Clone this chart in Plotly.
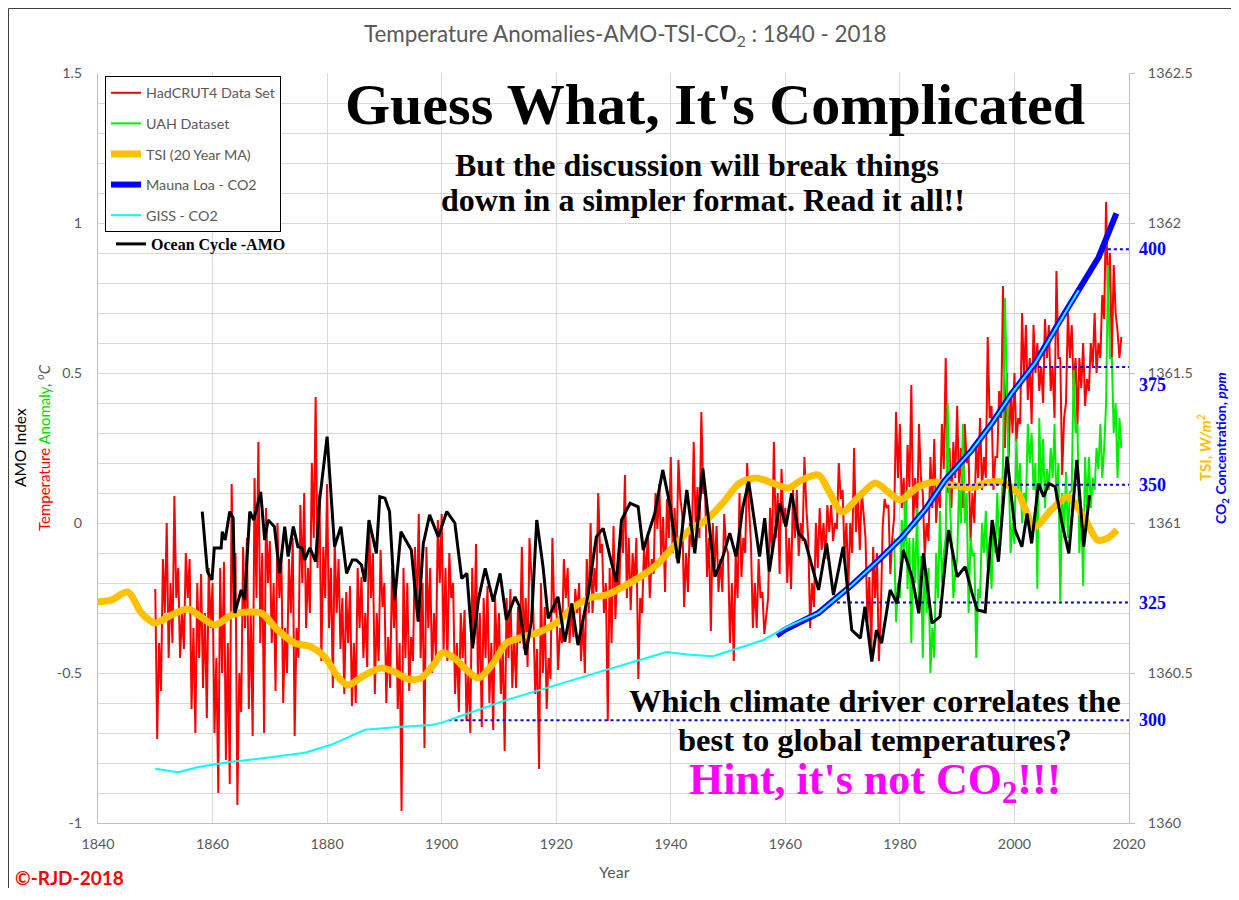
import numpy as np
import plotly.graph_objects as go

# ---------------- data ----------------
# HadCRUT4 anomaly, 3 readings per year starting 1850
hadcrut = [
    -0.22,-0.72,-0.40, -0.56,-0.12,-0.30, 0.00,-0.45,-0.20, -0.40,0.09,-0.25, -0.15,-0.45,-0.30,
    -0.42,-0.10,-0.25, -0.12,-0.62,-0.35, -0.70,-0.20,-0.45, -0.17,-0.55,-0.30, -0.65,-0.15,-0.35,
    -0.20,-0.70,-0.45, -0.90,-0.15,-0.50, -0.13,-0.79,-0.40, -0.87,0.13,-0.30, -0.10,-0.94,-0.50,
    -0.63,-0.08,-0.35, -0.05,-0.62,-0.30, -0.71,0.15,-0.25, 0.27,-0.40,-0.10, -0.70,0.05,-0.20,
    -0.06,-0.40,-0.20, -0.56,0.00,-0.25, -0.10,-0.60,-0.35, -0.50,-0.12,-0.30, -0.05,-0.71,-0.35,
    -0.45,0.06,-0.20, 0.10,-0.35,-0.15, -0.30,0.20,-0.05, 0.42,-0.15,0.10, -0.46,-0.08,-0.25,
    0.13,-0.35,-0.15, -0.55,-0.05,-0.30, -0.12,-0.42,-0.25, -0.57,-0.23,-0.40, -0.21,-0.61,-0.40,
    -0.60,-0.15,-0.35, -0.18,-0.45,-0.30, -0.48,0.01,-0.25, -0.10,-0.57,-0.30, -0.46,-0.09,-0.28,
    -0.20,-0.60,-0.38, -0.55,-0.15,-0.35, -0.20,-0.62,-0.40, -0.96,-0.15,-0.45, -0.20,-0.56,-0.38,
    -0.46,-0.08,-0.30, 0.03,-0.45,-0.20, -0.75,-0.08,-0.35, -0.15,-0.50,-0.30, -0.45,0.01,-0.20,
    0.03,-0.43,-0.15, -0.46,-0.10,-0.25, -0.20,-0.57,-0.40, -0.63,-0.30,-0.45, -0.29,-0.66,-0.50,
    -0.70,-0.15,-0.40, -0.07,-0.52,-0.30, -0.68,-0.25,-0.45, -0.21,-0.60,-0.40, -0.69,-0.25,-0.45,
    -0.30,-0.57,-0.42, -0.76,-0.25,-0.45, -0.22,-0.55,-0.38, -0.55,-0.28,-0.40, -0.08,-0.42,-0.25,
    -0.48,-0.05,-0.20, -0.30,-0.57,-0.42, -0.82,-0.20,-0.50, -0.28,-0.62,-0.45, -0.52,-0.05,-0.30,
    -0.25,-0.49,-0.35, -0.40,-0.12,-0.25, -0.15,-0.40,-0.28, -0.38,-0.22,-0.30, -0.20,-0.46,-0.32,
    -0.50,-0.12,-0.30, 0.00,-0.30,-0.15, -0.23,0.10,-0.10, -0.07,-0.30,-0.20, -0.66,-0.15,-0.40,
    -0.01,-0.32,-0.15, -0.23,0.00,-0.10, 0.16,-0.25,-0.05, -0.29,-0.10,-0.20, -0.05,-0.52,-0.25,
    -0.30,-0.08,-0.18, -0.03,-0.25,-0.12, -0.17,0.10,-0.02, 0.13,-0.12,0.02, -0.23,0.08,-0.05,
    0.22,-0.10,0.05, -0.12,0.21,0.08, 0.03,-0.28,-0.10, -0.23,0.00,-0.08, 0.27,-0.01,0.12,
    -0.05,0.37,0.10, 0.10,-0.18,-0.05, -0.36,0.00,-0.15, -0.01,-0.23,-0.12, -0.23,0.03,-0.08,
    -0.10,-0.40,-0.20, -0.46,-0.10,-0.25, 0.10,-0.18,-0.05, -0.10,0.20,0.05, -0.07,-0.35,-0.20,
    -0.35,-0.12,-0.25, -0.23,-0.37,-0.30, -0.25,0.05,-0.10, 0.27,-0.05,0.10, -0.17,0.18,0.00,
    0.05,-0.20,-0.05, -0.22,0.11,-0.05, 0.11,-0.11,0.00, -0.06,0.22,0.05, -0.05,-0.35,-0.20,
    -0.28,0.00,-0.15, 0.05,-0.09,0.00, -0.12,0.06,-0.03, 0.06,-0.06,0.00, -0.02,0.20,0.08,
    0.11,-0.11,0.00, -0.22,0.00,-0.10, 0.25,-0.03,0.10, -0.09,0.11,0.02, -0.05,-0.33,-0.18,
    -0.43,-0.08,-0.25, -0.10,-0.46,-0.30, -0.01,0.08,0.05, 0.06,-0.17,-0.05, 0.02,0.37,0.15,
    0.33,0.05,0.15, -0.06,0.26,0.12, 0.46,0.00,0.15, 0.00,0.33,0.15, 0.10,-0.11,0.00,
    -0.06,0.22,0.05, 0.28,0.00,0.12, 0.05,0.33,0.18, 0.55,0.10,0.25, 0.05,0.27,0.15,
    0.39,0.11,0.25, 0.05,0.33,0.20, 0.22,-0.06,0.10, 0.00,0.27,0.15, 0.35,0.11,0.22,
    0.15,0.62,0.35, 0.39,0.11,0.22, 0.22,0.44,0.35, 0.79,0.25,0.50, 0.22,0.44,0.30,
    0.50,0.27,0.35, 0.33,0.70,0.48, 0.66,0.41,0.55, 0.33,0.66,0.50, 0.60,0.44,0.52,
    0.40,0.68,0.55, 0.66,0.44,0.52, 0.35,0.84,0.55, 0.55,0.16,0.35, 0.40,0.70,0.55,
    0.66,0.44,0.55, 0.33,0.55,0.45, 0.60,0.39,0.48, 0.44,0.60,0.52, 0.70,0.50,0.60,
    0.55,0.76,0.68, 1.07,0.75,0.90, 0.55,0.86,0.70, 0.64,0.55,0.62,
]
hadcrut_start = 1850

# UAH satellite anomaly, 3 readings per year starting 1979
uah = [
    -0.05,-0.33,-0.20, -0.25,0.01,-0.10, 0.11,-0.22,-0.05, -0.40,-0.05,-0.20, 0.05,-0.30,-0.11,
    -0.45,-0.10,-0.30, -0.15,-0.50,-0.35, -0.45,-0.10,-0.25, 0.04,-0.20,-0.10, -0.05,0.40,0.10,
    -0.05,-0.25,-0.17, -0.12,0.13,0.00, 0.33,0.00,0.10, -0.30,-0.05,-0.11, -0.10,-0.45,-0.22,
    -0.25,0.00,-0.10, 0.04,-0.15,-0.05, -0.22,0.00,-0.10, 0.10,-0.10,0.00, 0.20,0.75,0.45,
    0.11,-0.10,0.00, -0.07,0.28,0.10, 0.20,0.00,0.10, 0.05,0.33,0.20, 0.30,0.11,0.20,
    -0.22,0.35,0.10, 0.28,0.05,0.18, 0.11,0.25,0.15, 0.33,0.05,0.20, -0.26,0.10,-0.05,
    0.17,-0.05,0.10, 0.11,0.51,0.30, 0.33,-0.10,0.05, -0.21,0.22,0.05, 0.22,0.05,0.15,
    0.11,0.25,0.18, 0.33,0.15,0.25, 0.40,0.86,0.55, 0.55,0.30,0.40, 0.15,0.35,0.25,
]
uah_start = 1979

# TSI 20-year moving average (W/m2)
tsi_years = [1840, 1842.3, 1845.2, 1847.6, 1849.9, 1852.8, 1855.7, 1858.0, 1860.4, 1863.3,
             1866.2, 1868.5, 1871.4, 1874.3, 1877.2, 1879.6, 1881.9, 1883.6, 1886.6, 1889.5,
             1891.8, 1894.1, 1896.4, 1898.8, 1900.1, 1902.0, 1904.4, 1906.4, 1909.0, 1911.3,
             1914.2, 1917.1, 1920.0, 1922.9, 1925.8, 1928.7, 1931.6, 1934.6, 1937.5, 1940.4,
             1943.3, 1946.2, 1949.1, 1952.0, 1954.9, 1957.8, 1960.5, 1962.8, 1965.8, 1967.5,
             1969.9, 1972.8, 1975.7, 1978.0, 1980.0, 1983.2, 1986.1, 1989.0, 1992.5, 1994.8,
             1997.7, 2000.6, 2003.5, 2006.4, 2009.3, 2012.2, 2014.5, 2016.3, 2017.9]
tsi_vals = [1360.737, 1360.743, 1360.770, 1360.700, 1360.667, 1360.693, 1360.713, 1360.687, 1360.660, 1360.693,
            1360.703, 1360.700, 1360.643, 1360.600, 1360.587, 1360.553, 1360.487, 1360.460, 1360.493, 1360.517,
            1360.503, 1360.480, 1360.483, 1360.533, 1360.567, 1360.553, 1360.510, 1360.483, 1360.533, 1360.600,
            1360.620, 1360.637, 1360.667, 1360.717, 1360.750, 1360.760, 1360.787, 1360.820, 1360.860, 1360.920,
            1360.977, 1361.010, 1361.067, 1361.133, 1361.150, 1361.133, 1361.117, 1361.143, 1361.160, 1361.110,
            1361.037, 1361.087, 1361.133, 1361.103, 1361.077, 1361.120, 1361.137, 1361.127, 1361.117, 1361.133,
            1361.137, 1361.100, 1360.987, 1361.043, 1361.087, 1361.017, 1360.943, 1360.950, 1360.977]

# Mauna Loa CO2 (ppm)
ml_years = [1958.5, 1959.9, 1965.8, 1971.6, 1976.3, 1980.4, 1984.4, 1987.9, 1992.6, 1996.1,
            1999.6, 2003.6, 2007.7, 2011.2, 2014.7, 2017.8]
ml_ppm = [318.0, 319.2, 322.8, 328.7, 334.0, 338.9, 344.7, 351.0, 357.4, 363.1,
          369.5, 375.8, 384.3, 391.3, 398.3, 407.6]

# GISS CO2 (ppm)
giss_years = [1850, 1854, 1857.5, 1863.3, 1869.1, 1876.1, 1880.7, 1886.6, 1892.4, 1898.2,
              1900, 1905.5, 1911.3, 1917.1, 1922.9, 1928.7, 1934.6, 1939.2, 1943.3, 1947.4,
              1952, 1956.1, 1960.2, 1965.8, 1971.6, 1976.3, 1980.4, 1984.4, 1987.9, 1992.6,
              1996.1, 1999.6, 2003.6, 2007.7, 2011.2]
giss_ppm = [289.7, 289.0, 290.1, 291.2, 292.0, 293.1, 294.8, 298.0, 298.6, 299.0,
            299.5, 301.8, 304.3, 306.4, 308.6, 310.7, 312.8, 314.5, 313.9, 313.6,
            315.4, 317.0, 319.8, 322.8, 328.7, 334.0, 338.9, 344.7, 351.0, 357.4,
            363.1, 369.5, 375.8, 384.3, 391.3]

# AMO index
amo_years = [1858.2, 1858.5, 1859.1, 1859.9, 1860.3, 1861.5, 1861.7, 1862.2, 1863.0, 1863.6,
             1863.9, 1865.0, 1865.6, 1866.5, 1867.2, 1868.4, 1869.1, 1869.7, 1870.8, 1871.7,
             1872.6, 1873.2, 1874.1, 1874.9, 1875.6, 1876.1, 1877.0, 1878.0, 1878.7, 1880.0,
             1881.3, 1882.4, 1883.4, 1884.4, 1885.1, 1886.0, 1886.6, 1887.3, 1888.6, 1889.2,
             1890.1, 1890.9, 1891.8, 1892.9, 1894.7, 1895.9, 1896.8, 1897.9, 1899.4, 1900.9,
             1902.3, 1903.5, 1904.4, 1905.4, 1906.4, 1907.6, 1909.0, 1910.2, 1911.3, 1912.8,
             1913.6, 1914.7, 1915.7, 1916.6, 1917.7, 1918.6, 1919.5, 1920.3, 1921.5, 1922.7,
             1923.8, 1925.6, 1927.0, 1928.2, 1929.4, 1930.5, 1931.4, 1932.9, 1934.3, 1935.2,
             1936.1, 1937.2, 1938.6, 1939.8, 1941.3, 1942.8, 1944.2, 1945.6, 1947.7, 1949.1,
             1950.3, 1951.4, 1952.6, 1953.6, 1955.5, 1956.4, 1957.2, 1959.0, 1960.1, 1961.1,
             1962.3, 1963.4, 1965.8, 1967.2, 1968.4, 1970.1, 1971.6, 1973.1, 1973.9, 1975.1,
             1975.9, 1976.8, 1978.3, 1979.5, 1980.6, 1982.1, 1983.3, 1984.1, 1985.6, 1987.0,
             1988.5, 1990.0, 1991.4, 1992.6, 1993.5, 1994.9, 1996.1, 1997.2, 1998.7, 2000.1,
             2001.3, 2002.2, 2003.0, 2004.2, 2005.1, 2006.0, 2007.1, 2008.3, 2009.5, 2010.9,
             2012.1, 2013.1]
amo_vals = [0.038, -0.023, -0.162, -0.19, -0.083, -0.083, -0.029, -0.057, 0.038, 0.017,
            -0.30, -0.223, -0.257, 0.038, 0.01, 0.104, -0.057, 0.01, -0.012, -0.167,
            -0.012, -0.112, -0.012, -0.079, -0.083, -0.123, -0.083, -0.129, 0.077, 0.288,
            -0.079, -0.012, -0.168, -0.123, -0.123, -0.14, -0.196, 0.01, -0.101, 0.088,
            0.083, 0.038, -0.257, -0.029, -0.09, -0.329, -0.068, 0.027, -0.046, 0.038,
            0.0, -0.185, -0.168, -0.418, -0.257, -0.151, -0.262, -0.168, -0.323, -0.246,
            -0.279, -0.44, -0.323, 0.01, -0.146, -0.318, -0.279, -0.246, -0.396, -0.268,
            -0.407, -0.234, -0.046, -0.018, -0.112, -0.196, 0.01, 0.066, 0.054, -0.09,
            -0.034, 0.032, 0.177, 0.066, -0.134, 0.11, -0.101, 0.182, -0.179, -0.112,
            -0.034, -0.112, 0.054, 0.138, -0.112, 0.016, -0.162, 0.066, -0.012, 0.099,
            -0.034, -0.057, -0.223, -0.068, -0.24, -0.079, -0.357, -0.384, -0.279, -0.462,
            -0.357, -0.401, -0.223, -0.268, -0.09, -0.179, -0.301, -0.101, -0.334, -0.312,
            -0.023, -0.179, -0.146, -0.234, -0.29, -0.296, 0.01, -0.129, 0.221, -0.023,
            -0.079, 0.032, -0.068, 0.132, 0.088, 0.132, 0.121, -0.001, -0.101, 0.21,
            -0.079, 0.093]

# CO2 reference levels marked with dotted lines
co2_levels = [300, 325, 350, 375, 400]

# Tick labels
temp_ticks = [-1, -0.5, 0, 0.5, 1, 1.5]
temp_ticktext = ["-1", "-0.5", "0", "0.5", "1", "1.5"]
tsi_ticks = [1360, 1360.5, 1361, 1361.5, 1362, 1362.5]
tsi_ticktext = ["1360", "1360.5", "1361", "1361.5", "1362", "1362.5"]

# ---------------- layout helpers ----------------
# The page body has an 8 px margin on every side; keep the figure inside it (no scrollbars)
OFF = 8
W, H = 1239 - 2 * OFF, 880
PLOT_L, PLOT_R, PLOT_T, PLOT_B = 98, 1129, 73, 823      # page pixels of the plot area
ML = PLOT_L - OFF
MT = PLOT_T - OFF
MR = W - (PLOT_R - OFF)
MB = H - (PLOT_B - OFF)
PW, PH = PLOT_R - PLOT_L, PLOT_B - PLOT_T


def px(x):
    return (x - PLOT_L) / PW


def py(y):
    return (PLOT_B - y) / PH


GREY = "#595959"
SANS = "Lato"
SERIF = "Liberation Serif"

had_x = hadcrut_start + np.arange(len(hadcrut)) / 3.0
uah_x = uah_start + np.arange(len(uah)) / 3.0

fig = go.Figure()

fig.add_trace(go.Scatter(x=had_x, y=hadcrut, mode="lines", name="HadCRUT4 Data Set",
                         line=dict(color="#FF0000", width=2), legendgroup="a", legendrank=1))
fig.add_trace(go.Scatter(x=uah_x, y=uah, mode="lines", name="UAH Dataset",
                         line=dict(color="#00EE00", width=2), legendgroup="b", legendrank=2))
fig.add_trace(go.Scatter(x=tsi_years, y=tsi_vals, mode="lines", name="TSI (20 Year MA)", yaxis="y2",
                         line=dict(color="#FFC000", width=7, shape="spline", smoothing=0.8),
                         legendgroup="c", legendrank=3))

# dotted CO2 reference lines start where the CO2 record first reaches each level
merged_years = [y for y in giss_years if y < ml_years[0]] + ml_years
merged_ppm = [p for y, p in zip(giss_years, giss_ppm) if y < ml_years[0]] + ml_ppm


def crossing(years, vals, level):
    for i in range(1, len(vals)):
        if vals[i] >= level > vals[i - 1]:
            f = (level - vals[i - 1]) / (vals[i] - vals[i - 1])
            return years[i - 1] + f * (years[i] - years[i - 1])
    return years[0]


for lev in co2_levels:
    x0 = crossing(merged_years, merged_ppm, lev)
    fig.add_trace(go.Scatter(x=[x0, 2020.6], y=[lev, lev], mode="lines", yaxis="y3",
                             line=dict(color="#0000FF", width=2, dash="dot"),
                             showlegend=False, hoverinfo="skip", cliponaxis=False))

fig.add_trace(go.Scatter(x=ml_years, y=ml_ppm, mode="lines", name="Mauna Loa - CO2", yaxis="y3",
                         line=dict(color="#0000FF", width=6), legendgroup="d", legendrank=4))
fig.add_trace(go.Scatter(x=giss_years, y=giss_ppm, mode="lines", name="GISS - CO2", yaxis="y3",
                         line=dict(color="#00FFFF", width=2), legendgroup="e", legendrank=5))
fig.add_trace(go.Scatter(x=amo_years, y=amo_vals, mode="lines", name="<b>Ocean Cycle -AMO</b>",
                         yaxis="y4", line=dict(color="#000000", width=3), legend="legend2"))

annotations = []
# CO2 level labels, just right of the right-hand axis
for lev in co2_levels:
    annotations.append(dict(x=px(1137), y=lev, xref="paper", yref="y3", text="<b>%d</b>" % lev,
                            showarrow=False, xanchor="left", yanchor="middle",
                            yshift=-18 if lev == 375 else 0,
                            font=dict(family=SERIF, size=18, color="#0000FF")))

annotations += [
    dict(x=px(625), y=py(35), text="Temperature Anomalies-AMO-TSI-CO<sub>2</sub> : 1840 - 2018",
         font=dict(family=SANS, size=22.4, color=GREY)),
    dict(x=px(715), y=py(104), text="<b>Guess What, It's Complicated</b>",
         font=dict(family=SERIF, size=58, color="#000000")),
    dict(x=px(697), y=py(165), text="<b>But the discussion will break things</b>",
         font=dict(family=SERIF, size=32, color="#000000")),
    dict(x=px(703), y=py(200), text="<b>down in a simpler format. Read it all!!</b>",
         font=dict(family=SERIF, size=32, color="#000000")),
    dict(x=px(875), y=py(701), text="<b>Which climate driver correlates the</b>",
         font=dict(family=SERIF, size=32.5, color="#000000")),
    dict(x=px(875), y=py(740), text="<b>best to global temperatures?</b>",
         font=dict(family=SERIF, size=32.5, color="#000000")),
    dict(x=px(875), y=py(782), text="<b>Hint, it's not CO<sub>2</sub>!!!</b>",
         font=dict(family=SERIF, size=44, color="#FF00FF")),
    dict(x=px(20), y=py(448), text="AMO Index", textangle=-90,
         font=dict(family=SANS, size=15.5, color="#000000")),
    dict(x=px(43), y=py(448), textangle=-90,
         text='<span style="color:#FF0000">Temperature</span> <span style="color:#00DD00">Anomaly</span>'
              '<span style="color:#595959">, <i><sup>o</sup>C</i></span>',
         font=dict(family=SANS, size=15, color=GREY)),
    dict(x=px(1204), y=py(448), textangle=-90, text="<b>TSI, <i>W/m<sup>2</sup></i></b>",
         font=dict(family=SANS, size=15, color="#FFC000")),
    dict(x=px(1221), y=py(448), textangle=-90,
         text="<b>CO<sub>2</sub> Concentration, <i>ppm</i></b>",
         font=dict(family=SANS, size=14, color="#0000FF")),
    dict(x=px(614), y=py(871), text="Year", font=dict(family=SANS, size=16, color=GREY)),
    dict(x=px(13), y=py(877), text="<b>©-RJD-2018</b>", xanchor="left",
         font=dict(family=SANS, size=19, color="#FF0000")),
]
for a in annotations:
    a.setdefault("xref", "paper")
    a.setdefault("yref", "paper")
    a.setdefault("showarrow", False)
    a.setdefault("xanchor", "center")
    a.setdefault("yanchor", "middle")

# outer frame: only the left and top edges are visible in the reference
shapes = [
    dict(type="line", xref="paper", yref="paper", x0=px(8.5), x1=px(8.5), y0=py(8.5), y1=py(905),
         line=dict(color="#404040", width=1)),
    dict(type="line", xref="paper", yref="paper", x0=px(8.5), x1=px(1245), y0=py(8.5), y1=py(8.5),
         line=dict(color="#404040", width=1)),
]

grid = "#D9D9D9"
axline = "#BFBFBF"
tickfont = dict(family=SANS, size=14.3, color=GREY)
fig.update_layout(
    width=W, height=H,
    margin=dict(l=ML, r=MR, t=MT, b=MB),
    paper_bgcolor="white", plot_bgcolor="white",
    showlegend=True,
    xaxis=dict(range=[1840, 2020], tick0=1840, dtick=20, showgrid=True, gridcolor=grid,
               showline=True, linecolor=axline, zeroline=False, ticks="",
               tickfont=tickfont, ticklabelstandoff=8),
    yaxis=dict(range=[-1, 1.5], tickvals=temp_ticks, ticktext=temp_ticktext, showgrid=True,
               gridcolor=grid, minor=dict(dtick=0.1, tick0=0, showgrid=True, gridcolor=grid),
               showline=True, linecolor=axline, zeroline=False, ticks="",
               tickfont=tickfont, ticklabelstandoff=12),
    yaxis2=dict(range=[1360, 1362.5], overlaying="y", side="right", tickvals=tsi_ticks,
                ticktext=tsi_ticktext, showgrid=False, showline=True, linecolor=axline,
                zeroline=False, ticks="outside", ticklen=5, tickcolor=axline,
                tickfont=tickfont, ticklabelstandoff=10),
    yaxis3=dict(range=[278.2, 437.4], overlaying="y", visible=False),
    yaxis4=dict(range=[-1, 1.5], overlaying="y", visible=False),
    legend=dict(x=px(105), y=py(76), xanchor="left", yanchor="top", bgcolor="white",
                bordercolor="#000000", borderwidth=1, tracegroupgap=9,
                font=dict(family=SANS, size=14.3, color=GREY), itemwidth=30),
    legend2=dict(x=px(111), y=py(227), xanchor="left", yanchor="top", bgcolor="rgba(0,0,0,0)",
                 borderwidth=0, font=dict(family=SERIF, size=16, color="#000000"), itemwidth=30),
    annotations=annotations,
    shapes=shapes,
)

fig.write_html("out.html")
